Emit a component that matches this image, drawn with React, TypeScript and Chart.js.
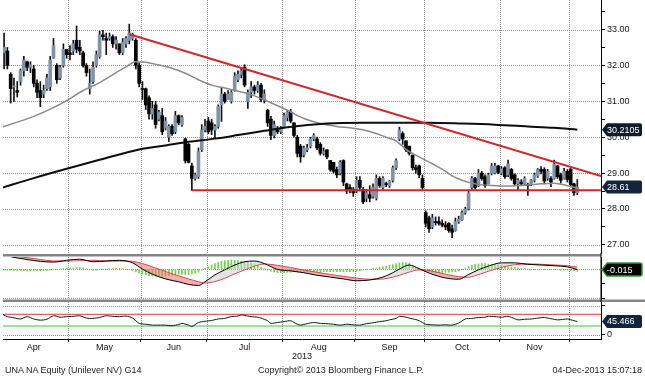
import React, { useEffect, useRef } from 'react';
import { Chart, registerables } from 'chart.js';

Chart.register(...registerables);

const FONT = 'Liberation Sans';

// ---------- time axis (trading-day index, Apr 2013 .. Dec 2013) ----------
const monthNames = ['Apr', 'May', 'Jun', 'Jul', 'Aug', 'Sep', 'Oct', 'Nov'];
const monthStartIdx = [0, 21, 43, 63, 86, 108, 129, 152, 173];
const yearLabel = '2013';

// ---------- daily candles ----------
const opens = [
  32.20, 32.35, 32.40, 31.75, 31.40, 31.30, 31.55, 31.85, 32.10, 31.95,
  31.90, 31.50, 31.30, 31.20, 31.35, 31.40, 32.20, 32.00, 31.65, 32.00,
  32.45, 32.35, 32.40, 32.70, 32.50, 32.35, 32.00, 31.35, 31.55, 32.00,
  32.25, 32.85, 32.75, 32.75, 32.80, 32.60, 32.60, 32.35, 32.60, 32.70,
  32.75, 32.70, 32.00, 31.35, 31.35, 31.10, 30.65, 30.90, 30.50, 30.60,
  30.25, 30.00, 30.30, 30.15, 30.60, 30.35, 29.95, 29.80, 29.20, 28.85,
  28.90, 29.65, 30.20, 30.45, 30.40, 30.20, 30.30, 30.90, 31.20, 31.05,
  31.00, 31.30, 31.60, 31.75, 31.95, 31.00, 31.25, 31.40, 31.30, 31.45,
  31.05, 30.75, 30.50, 30.05, 30.25, 30.15, 30.30, 30.55, 30.70, 30.40,
  30.00, 29.75, 29.50, 29.65, 29.75, 29.95, 29.95, 29.80, 29.55, 29.65,
  29.35, 29.30, 29.10, 29.00, 29.35, 28.70, 28.60, 28.55, 28.50, 28.80,
  28.55, 28.30, 28.40, 28.35, 28.30, 28.85, 28.60, 28.70, 28.65, 28.80,
  29.15, 29.95, 30.10, 29.90, 29.75, 29.50, 29.15, 29.20, 28.85, 27.90,
  27.75, 27.50, 27.65, 27.65, 27.60, 27.55, 27.60, 27.45, 27.40, 27.65,
  27.70, 27.90, 28.00, 28.60, 28.85, 28.65, 29.00, 28.90, 28.70, 29.00,
  29.00, 29.20, 29.00, 29.15, 28.95, 29.10, 28.95, 28.70, 28.75, 28.70,
  28.68, 28.68, 28.80, 28.92, 29.10, 29.10, 28.85, 28.85, 28.85, 29.20,
  28.95, 28.85, 29.05, 29.10, 28.70, 28.45,
];
const highs = [
  32.50, 32.90, 32.50, 31.80, 31.65, 31.55, 31.90, 32.25, 32.12, 32.10,
  32.00, 31.60, 31.55, 31.45, 31.75, 32.25, 32.75, 32.05, 32.00, 32.60,
  32.45, 32.55, 32.70, 33.10, 32.70, 32.40, 32.05, 31.90, 32.10, 32.40,
  32.95, 32.98, 32.90, 32.90, 32.85, 32.80, 32.60, 32.75, 32.80, 33.15,
  32.90, 32.75, 32.07, 31.55, 31.37, 31.15, 31.00, 31.00, 30.75, 30.80,
  30.55, 30.35, 30.35, 30.72, 30.62, 30.60, 29.97, 29.83, 29.28, 29.00,
  29.70, 30.35, 30.50, 30.55, 30.50, 30.35, 30.90, 31.37, 31.25, 31.30,
  31.30, 31.80, 31.85, 31.93, 32.02, 31.32, 31.55, 31.45, 31.55, 31.50,
  31.32, 30.78, 30.58, 30.45, 30.30, 30.30, 30.67, 30.75, 30.78, 30.40,
  30.05, 29.80, 29.75, 29.80, 30.00, 30.10, 30.00, 29.85, 29.70, 29.65,
  29.35, 29.30, 29.17, 29.35, 29.37, 28.72, 28.68, 28.60, 28.90, 28.90,
  28.60, 28.55, 28.65, 28.70, 28.95, 28.90, 28.90, 28.75, 28.80, 29.20,
  29.40, 30.28, 30.15, 29.90, 29.75, 29.50, 29.22, 29.22, 28.95, 27.95,
  27.80, 27.85, 27.78, 27.78, 27.70, 27.65, 27.62, 27.55, 27.75, 27.80,
  27.95, 28.05, 28.50, 28.90, 28.88, 29.10, 29.05, 28.95, 29.00, 29.27,
  29.27, 29.22, 29.18, 29.18, 29.36, 29.13, 28.98, 28.85, 28.82, 28.90,
  28.72, 28.82, 29.00, 29.13, 29.18, 29.15, 29.10, 28.90, 29.36, 29.22,
  29.00, 29.13, 29.10, 29.13, 28.72, 28.82,
];
const lows = [
  32.00, 31.90, 31.90, 30.95, 31.00, 31.12, 31.45, 31.70, 31.85, 31.80,
  31.40, 31.10, 30.85, 31.10, 31.30, 31.30, 32.20, 31.50, 31.60, 31.95,
  32.20, 32.15, 32.30, 32.35, 32.30, 31.95, 31.70, 31.20, 31.50, 31.95,
  32.20, 32.70, 32.30, 32.70, 32.50, 32.45, 32.30, 32.30, 32.50, 32.60,
  32.70, 31.90, 31.40, 31.05, 30.77, 30.50, 30.50, 30.25, 30.45, 30.07,
  30.20, 29.88, 30.05, 30.10, 30.35, 30.30, 29.28, 29.28, 28.52, 28.80,
  28.85, 29.60, 30.15, 30.10, 30.07, 29.98, 30.25, 30.44, 30.95, 31.05,
  30.95, 31.28, 31.55, 31.65, 31.40, 30.80, 31.10, 31.20, 31.25, 30.98,
  30.95, 30.30, 29.93, 29.98, 30.10, 30.10, 30.30, 30.45, 30.40, 30.00,
  29.45, 29.30, 29.45, 29.60, 29.70, 29.90, 29.65, 29.50, 29.50, 29.40,
  29.05, 29.00, 28.87, 28.95, 28.65, 28.43, 28.45, 28.35, 28.45, 28.50,
  28.15, 28.20, 28.20, 28.30, 28.25, 28.60, 28.55, 28.62, 28.60, 28.75,
  29.10, 29.90, 29.80, 29.60, 29.50, 29.08, 29.00, 28.87, 28.55, 27.50,
  27.35, 27.45, 27.55, 27.55, 27.50, 27.42, 27.35, 27.20, 27.38, 27.60,
  27.68, 27.85, 27.97, 28.55, 28.55, 28.62, 28.80, 28.60, 28.70, 28.95,
  28.98, 28.98, 28.95, 28.85, 28.90, 28.80, 28.67, 28.53, 28.65, 28.67,
  28.38, 28.65, 28.75, 28.88, 28.98, 28.70, 28.80, 28.62, 28.83, 28.85,
  28.72, 28.83, 28.75, 28.62, 28.38, 28.40,
];
const closes = [
  32.30, 32.50, 32.00, 31.35, 31.42, 31.25, 31.85, 32.15, 31.95, 32.02,
  31.50, 31.25, 31.10, 31.30, 31.65, 32.15, 32.55, 31.60, 31.95, 32.45,
  32.30, 32.30, 32.60, 32.45, 32.40, 32.00, 31.80, 31.50, 31.95, 32.30,
  32.85, 32.80, 32.70, 32.80, 32.60, 32.70, 32.35, 32.65, 32.75, 32.90,
  32.85, 32.00, 31.50, 31.33, 30.90, 30.65, 30.80, 30.35, 30.70, 30.15,
  30.45, 30.30, 30.10, 30.60, 30.40, 30.55, 29.35, 29.30, 28.85, 28.95,
  29.60, 30.20, 30.30, 30.15, 30.20, 30.30, 30.85, 31.20, 31.00, 31.20,
  31.25, 31.70, 31.75, 31.85, 31.45, 31.25, 31.40, 31.30, 31.45, 31.05,
  31.20, 30.40, 30.05, 30.35, 30.15, 30.25, 30.60, 30.70, 30.45, 30.05,
  29.55, 29.45, 29.70, 29.70, 29.95, 30.05, 29.70, 29.55, 29.60, 29.45,
  29.10, 29.05, 28.95, 29.30, 28.75, 28.50, 28.55, 28.45, 28.80, 28.60,
  28.20, 28.45, 28.30, 28.60, 28.85, 28.65, 28.85, 28.68, 28.78, 29.15,
  29.35, 30.20, 29.95, 29.65, 29.55, 29.15, 29.10, 28.95, 28.60, 27.60,
  27.45, 27.75, 27.62, 27.60, 27.55, 27.50, 27.40, 27.35, 27.65, 27.72,
  27.90, 28.00, 28.45, 28.85, 28.60, 29.00, 28.85, 28.65, 28.95, 29.20,
  29.20, 29.02, 29.12, 28.90, 29.25, 28.85, 28.70, 28.80, 28.70, 28.85,
  28.65, 28.80, 28.95, 29.10, 29.05, 28.78, 29.05, 28.75, 29.25, 28.90,
  28.80, 29.05, 28.82, 28.68, 28.45, 28.61,
];

// ---------- moving averages (sampled) ----------
const ma50Idx = [0, 5, 10, 15, 20, 25, 30, 35, 38, 41, 44, 48, 52, 56, 60, 64, 68, 72, 77, 82, 87, 92, 97, 102, 107, 112, 117, 120, 123, 127, 131, 135, 137, 140, 144, 148, 152, 156, 160, 164, 168, 172, 175];
const ma50Vals = [30.27, 30.42, 30.58, 30.78, 31.02, 31.30, 31.52, 31.80, 31.96, 32.10, 32.09, 32.01, 31.92, 31.78, 31.60, 31.45, 31.37, 31.28, 31.15, 30.96, 30.75, 30.52, 30.38, 30.30, 30.25, 30.16, 30.00, 29.90, 29.66, 29.45, 29.26, 29.05, 28.92, 28.80, 28.70, 28.66, 28.64, 28.65, 28.67, 28.70, 28.72, 28.65, 28.58];
const ma200Idx = [0, 10, 20, 30, 42, 50, 57, 65, 72, 80, 87, 99, 110, 120, 130, 140, 150, 160, 168, 175];
const ma200Vals = [28.58, 28.86, 29.12, 29.37, 29.66, 29.77, 29.87, 29.96, 30.06, 30.18, 30.28, 30.38, 30.40, 30.40, 30.40, 30.38, 30.35, 30.30, 30.26, 30.2105];

// ---------- trend lines ----------
const resistIdx = [39, 182.2];
const resistVals = [32.87, 28.92];
const supportIdx = [58, 182.2];
const supportVals = [28.52, 28.52];

// ---------- price axis ticks ----------
const priceTicks = [27, 27.5, 28, 28.5, 29, 29.5, 30, 30.5, 31, 31.5, 32, 32.5, 33, 33.5];
const priceGrid = [27, 28, 29, 30, 31, 32, 33];

// ---------- MACD ----------
const macdIdx = [0, 4, 8, 12, 16, 20, 24, 28, 32, 36, 40, 43, 46, 50, 54, 57, 60, 62, 65, 68, 71, 74, 77, 80, 84, 88, 92, 96, 100, 104, 108, 112, 116, 119, 121, 124, 127, 130, 133, 136, 139, 142, 145, 148, 152, 156, 160, 164, 168, 172, 175];
const macdVals = [0.40, 0.32, 0.26, 0.21, 0.19, 0.24, 0.27, 0.20, 0.22, 0.24, 0.17, 0.00, -0.14, -0.27, -0.35, -0.42, -0.45, -0.35, -0.16, -0.02, 0.11, 0.20, 0.22, 0.15, -0.01, -0.05, -0.10, -0.17, -0.22, -0.27, -0.32, -0.30, -0.22, -0.10, 0.00, 0.11, 0.01, -0.11, -0.20, -0.26, -0.28, -0.15, -0.02, 0.08, 0.17, 0.17, 0.13, 0.11, 0.09, 0.06, -0.015];
const signalVals = [0.40, 0.36, 0.31, 0.26, 0.22, 0.22, 0.23, 0.24, 0.22, 0.22, 0.21, 0.15, 0.06, -0.07, -0.19, -0.27, -0.35, -0.38, -0.34, -0.25, -0.13, -0.02, 0.08, 0.14, 0.10, 0.04, -0.03, -0.09, -0.15, -0.20, -0.25, -0.28, -0.27, -0.22, -0.17, -0.08, -0.02, -0.04, -0.10, -0.16, -0.21, -0.22, -0.15, -0.06, 0.05, 0.12, 0.14, 0.13, 0.11, 0.09, 0.05];
const macdHist = [
  -0.02, -0.03, -0.04, -0.04, -0.04, -0.05, -0.05, -0.05, -0.05, -0.05,
  -0.05, -0.05, -0.05, -0.04, -0.04, -0.03, -0.02, -0.01, 0.00, 0.01,
  0.02, 0.03, 0.03, 0.04, 0.04, 0.03, 0.01, -0.01, -0.03, -0.03,
  -0.02, -0.01, 0.00, 0.01, 0.02, 0.02, 0.02, 0.01, 0.00, -0.02,
  -0.04, -0.08, -0.11, -0.14, -0.16, -0.18, -0.19, -0.20, -0.20, -0.20,
  -0.19, -0.18, -0.17, -0.16, -0.15, -0.15, -0.15, -0.15, -0.13, -0.11,
  -0.09, -0.03, 0.02, 0.06, 0.11, 0.15, 0.19, 0.21, 0.23, 0.24,
  0.25, 0.24, 0.23, 0.22, 0.21, 0.19, 0.17, 0.14, 0.10, 0.05,
  0.01, -0.03, -0.06, -0.08, -0.10, -0.10, -0.10, -0.09, -0.09, -0.08,
  -0.08, -0.08, -0.07, -0.07, -0.08, -0.08, -0.08, -0.08, -0.07, -0.07,
  -0.07, -0.07, -0.07, -0.07, -0.07, -0.07, -0.07, -0.07, -0.06, -0.05,
  -0.03, -0.02, -0.01, 0.01, 0.03, 0.05, 0.06, 0.08, 0.10, 0.12,
  0.15, 0.17, 0.18, 0.18, 0.16, 0.10, 0.04, 0.00, -0.03, -0.06,
  -0.08, -0.09, -0.10, -0.10, -0.10, -0.09, -0.09, -0.08, -0.07, -0.05,
  -0.01, 0.03, 0.07, 0.10, 0.13, 0.14, 0.15, 0.15, 0.14, 0.13,
  0.12, 0.11, 0.10, 0.08, 0.06, 0.05, 0.04, 0.03, 0.02, 0.01,
  0.00, -0.01, -0.01, -0.02, -0.02, -0.02, -0.02, -0.02, -0.02, -0.02,
  -0.03, -0.03, -0.03, -0.04, -0.05, -0.06,
];
const macdTicks = [-0.8, -0.4, 0];
const macdGrid = [-0.8, 0];

// ---------- RSI ----------
const rsiIdx = [0, 2, 4, 6, 8, 10, 12, 14, 16, 18, 20, 22, 24, 26, 28, 30, 32, 34, 36, 38, 40, 42, 44, 46, 48, 50, 52, 54, 55, 57, 58, 60, 62, 64, 66, 68, 70, 72, 73, 75, 76, 78, 79, 81, 82, 84, 86, 88, 90, 91, 93, 95, 97, 99, 101, 103, 105, 107, 109, 111, 113, 115, 117, 118, 120, 121, 123, 124, 126, 127, 129, 131, 133, 135, 137, 139, 141, 143, 145, 147, 148, 150, 152, 154, 156, 157, 159, 161, 163, 165, 167, 169, 171, 172, 174, 175];
const rsiVals = [73, 62, 58, 54, 62, 54, 50, 53, 65, 60, 62, 63, 65, 57, 56, 59, 65, 63, 62, 64, 57, 39, 36, 33, 33, 33, 31, 35, 39, 33, 28, 42, 46, 49, 54, 56, 62, 64, 68, 64, 62, 60, 57, 48, 39, 42, 45, 48, 36, 33, 38, 42, 39, 38, 36, 33, 36, 34, 33, 38, 41, 45, 48, 51, 56, 63, 60, 57, 52, 48, 36, 34, 33, 34, 33, 40, 54, 56, 59, 60, 63, 62, 60, 63, 55, 51, 53, 54, 57, 59, 55, 51, 53, 54, 48, 45.466];
const rsiHigh = 70;
const rsiLow = 30;
const rsiTicks = [0, 100];
const rsiGrid = [0, 100];

// ---------- footer ----------
const securityText = 'UNA NA Equity (Unilever NV) G14';
const copyrightText = 'Copyright\u00A9 2013 Bloomberg Finance L.P.';
const stampText = '04-Dec-2013 15:07:18';

// ---------- view ----------
const X_MIN = 0.67;
const X_MAX = 182.2;
const PRICE_MIN = 26.774;
const PRICE_MAX = 33.822;
const MACD_MIN = -0.82;
const MACD_MAX = 0.33;
const RSI_MIN = -14.4;
const RSI_MAX = 112;

const N = closes.length;
const dayIdx = closes.map((_, i) => i);
const pts = (ix: number[], vals: number[]) => ix.map((x, k) => ({ x, y: vals[k] }));

const boundaries = monthStartIdx.slice(1).map((s) => s - 0.5);
const mids = monthNames.map((_, k) => (monthStartIdx[k] + monthStartIdx[k + 1] - 1) / 2);
const isBoundary = (v: number) => boundaries.some((b) => Math.abs(b - v) < 1e-6);

const GRID = '#8e8e8e';
const TXT = '#151515';
const NONE = 'rgba(0,0,0,0)';

// dotted grid drawn under the datasets, positioned through the chart's own scales
function dotGrid(hVals: number[]) {
  return {
    id: 'dotGrid',
    beforeDatasetsDraw(chart: any) {
      const { ctx, chartArea: a, scales } = chart;
      ctx.save();
      ctx.strokeStyle = GRID;
      ctx.lineWidth = 1;
      ctx.setLineDash([1, 1]);
      for (const b of boundaries) {
        const x = Math.round(scales.x.getPixelForValue(b)) + 0.5;
        ctx.beginPath();
        ctx.moveTo(x, a.top);
        ctx.lineTo(x, a.bottom);
        ctx.stroke();
      }
      for (const v of hVals) {
        const y = Math.round(scales.y.getPixelForValue(v)) + 0.5;
        ctx.beginPath();
        ctx.moveTo(a.left, y);
        ctx.lineTo(a.right, y);
        ctx.stroke();
      }
      ctx.restore();
    },
  };
}

function xAxis(withLabels: boolean): any {
  return {
    type: 'linear',
    min: X_MIN,
    max: X_MAX,
    offset: false,
    bounds: 'data',
    afterBuildTicks: (s: any) => {
      const vals = withLabels ? [...boundaries, ...mids].sort((a, b) => a - b) : boundaries;
      s.ticks = vals.map((v) => ({ value: v }));
    },
    ticks: {
      display: withLabels,
      autoSkip: false,
      maxRotation: 0,
      minRotation: 0,
      padding: 0,
      color: TXT,
      font: { family: FONT, size: 9 },
      callback: (v: number) => {
        const k = mids.indexOf(v);
        return k >= 0 ? monthNames[k] : '';
      },
    },
    grid: {
      drawOnChartArea: false,
      drawTicks: withLabels,
      tickLength: 3,
      lineWidth: 1,
      color: NONE,
      tickColor: (c: any) => (c.tick && isBoundary(c.tick.value) ? '#222' : NONE),
    },
    border: { display: withLabels, color: '#000', width: 1 },
    title: withLabels
      ? { display: true, text: yearLabel, color: TXT, font: { family: FONT, size: 9 }, padding: { top: 0, bottom: 4 } }
      : { display: false },
    afterFit: (s: any) => {
      s.paddingLeft = 0;
      s.paddingRight = 0;
      s.height = withLabels ? 27 : 0;
    },
  };
}

function yAxis(min: number, max: number, ticks: number[], label: (v: number) => string): any {
  return {
    type: 'linear',
    position: 'right',
    min,
    max,
    bounds: 'data',
    afterBuildTicks: (s: any) => {
      s.ticks = ticks.map((v) => ({ value: v }));
    },
    ticks: { autoSkip: false, padding: 2, color: TXT, font: { family: FONT, size: 9 }, callback: (v: number) => label(v) },
    grid: {
      drawOnChartArea: false,
      tickLength: 4,
      lineWidth: 1,
      tickColor: '#000',
      color: NONE,
    },
    border: { display: true, color: '#000', width: 1 },
    afterFit: (s: any) => {
      s.width = 44;
      s.paddingTop = 0;
      s.paddingBottom = 0;
    },
  };
}

function drawValueBox(ctx: CanvasRenderingContext2D, yc: number, text: string, fill: string, stroke?: string) {
  const x0 = 602;
  const x1 = 642;
  const h = 13;
  const top = yc - h / 2;
  ctx.save();
  ctx.beginPath();
  ctx.moveTo(x0, yc);
  ctx.lineTo(x0 + 5, top);
  ctx.lineTo(x1 - 2, top);
  ctx.quadraticCurveTo(x1, top, x1, top + 2);
  ctx.lineTo(x1, top + h - 2);
  ctx.quadraticCurveTo(x1, top + h, x1 - 2, top + h);
  ctx.lineTo(x0 + 5, top + h);
  ctx.closePath();
  ctx.fillStyle = fill;
  ctx.fill();
  if (stroke) {
    ctx.strokeStyle = stroke;
    ctx.lineWidth = 1.5;
    ctx.stroke();
  }
  ctx.fillStyle = '#ffffff';
  ctx.font = `9px "${FONT}"`;
  ctx.textAlign = 'left';
  ctx.textBaseline = 'middle';
  ctx.fillText(text, x0 + 5, yc + 0.5);
  ctx.restore();
}

const baseOptions = (padding: any) => ({
  responsive: false,
  animation: false as const,
  events: [] as any[],
  layout: { padding },
  plugins: { legend: { display: false }, tooltip: { enabled: false }, title: { display: false } },
});

export default function App() {
  const priceRef = useRef<HTMLCanvasElement>(null);
  const macdRef = useRef<HTMLCanvasElement>(null);
  const rsiRef = useRef<HTMLCanvasElement>(null);

  useEffect(() => {
    const up = (i: number) => closes[i] >= opens[i];

    const priceBoxes = {
      id: 'priceBoxes',
      afterDraw(chart: any) {
        const y = chart.scales.y;
        const lastMa = ma200Vals[ma200Vals.length - 1];
        drawValueBox(chart.ctx, y.getPixelForValue(lastMa), lastMa.toFixed(4), '#0f1c2e');
        drawValueBox(chart.ctx, y.getPixelForValue(closes[N - 1]), closes[N - 1].toFixed(2), '#13253d');
      },
    };

    const price = new Chart(priceRef.current as HTMLCanvasElement, {
      type: 'bar',
      data: {
        datasets: [
          {
            type: 'line',
            data: pts(resistIdx, resistVals),
            borderColor: '#d2262b',
            borderWidth: 2,
            pointRadius: 0,
            order: 0,
          } as any,
          {
            type: 'line',
            data: pts(supportIdx, supportVals),
            borderColor: '#d2262b',
            borderWidth: 2,
            pointRadius: 0,
            order: 0,
          } as any,
          {
            type: 'line',
            data: pts(ma200Idx, ma200Vals),
            borderColor: '#0d0d0d',
            borderWidth: 2,
            pointRadius: 0,
            cubicInterpolationMode: 'monotone',
            order: 1,
          } as any,
          {
            type: 'line',
            data: pts(ma50Idx, ma50Vals),
            borderColor: '#8a8a8a',
            borderWidth: 1.5,
            pointRadius: 0,
            cubicInterpolationMode: 'monotone',
            order: 2,
          } as any,
          {
            type: 'bar',
            data: dayIdx.map((i) => ({ x: i, y: [Math.min(opens[i], closes[i]), Math.max(opens[i], closes[i])] })),
            backgroundColor: (c: any) => (up(c.dataIndex) ? '#8093a9' : '#050505'),
            borderWidth: 0,
            barThickness: 3,
            minBarLength: 1,
            grouped: false,
            order: 4,
          } as any,
          {
            type: 'bar',
            data: dayIdx.map((i) => ({ x: i, y: [lows[i], highs[i]] })),
            backgroundColor: '#111111',
            borderWidth: 0,
            barThickness: 1,
            grouped: false,
            order: 5,
          } as any,
        ],
      },
      options: {
        ...baseOptions({ left: 3, top: 0, right: 0, bottom: 1 }),
        scales: {
          x: xAxis(false),
          y: yAxis(PRICE_MIN, PRICE_MAX, priceTicks, (v) => (Number.isInteger(v) ? v.toFixed(2) : '')),
        },
      } as any,
      plugins: [dotGrid(priceGrid), priceBoxes],
    });

    const macdDecor = {
      id: 'macdDecor',
      afterDraw(chart: any) {
        const { ctx, chartArea } = chart;
        ctx.save();
        ctx.fillStyle = '#858585';
        ctx.fillRect(chartArea.left, 1, chartArea.right - chartArea.left, 2.5);
        ctx.fillRect(chartArea.left, chart.height - 2.5, chart.width - chartArea.left, 2.5);
        ctx.fillStyle = '#000';
        ctx.fillRect(chartArea.right - 0.5, 0, 1, chart.height);
        ctx.restore();
        const y = chart.scales.y;
        const last = macdVals[macdVals.length - 1];
        drawValueBox(ctx, y.getPixelForValue(last), last.toFixed(3), '#000000', '#2e9a34');
      },
    };

    const macd = new Chart(macdRef.current as HTMLCanvasElement, {
      type: 'bar',
      data: {
        datasets: [
          {
            type: 'bar',
            data: dayIdx.map((i) => ({ x: i, y: macdHist[i] })),
            backgroundColor: '#6fd24c',
            borderWidth: 0,
            barThickness: 1,
            grouped: false,
            order: 3,
          } as any,
          {
            type: 'line',
            data: pts(macdIdx, signalVals),
            borderColor: '#d2262b',
            borderWidth: 1,
            pointRadius: 0,
            cubicInterpolationMode: 'monotone',
            order: 1,
          } as any,
          {
            type: 'line',
            data: pts(macdIdx, macdVals),
            borderColor: '#000000',
            borderWidth: 1,
            pointRadius: 0,
            cubicInterpolationMode: 'monotone',
            fill: { target: 1, above: 'rgba(205,205,205,0.55)', below: 'rgba(238,120,120,0.6)' },
            order: 0,
          } as any,
        ],
      },
      options: {
        ...baseOptions({ left: 3, top: 4, right: 0, bottom: 3 }),
        scales: {
          x: xAxis(false),
          y: yAxis(MACD_MIN, MACD_MAX, macdTicks, () => ''),
        },
      } as any,
      plugins: [dotGrid(macdGrid), macdDecor],
    });

    const rsiDecor = {
      id: 'rsiDecor',
      afterDraw(chart: any) {
        const y = chart.scales.y;
        const last = rsiVals[rsiVals.length - 1];
        drawValueBox(chart.ctx, y.getPixelForValue(last), last.toFixed(3), '#13253d');
      },
    };

    const rsi = new Chart(rsiRef.current as HTMLCanvasElement, {
      type: 'line',
      data: {
        datasets: [
          {
            data: pts([X_MIN, X_MAX], [rsiHigh, rsiHigh]),
            borderColor: '#e0393c',
            borderWidth: 1,
            pointRadius: 0,
            order: 2,
          },
          {
            data: pts([X_MIN, X_MAX], [rsiLow, rsiLow]),
            borderColor: '#3fc23f',
            borderWidth: 1,
            pointRadius: 0,
            order: 2,
          },
          {
            data: pts(rsiIdx, rsiVals),
            borderColor: '#10131c',
            borderWidth: 1,
            pointRadius: 0,
            tension: 0.25,
            order: 0,
          },
        ] as any,
      },
      options: {
        ...baseOptions({ left: 3, top: 0, right: 0, bottom: 0 }),
        scales: {
          x: xAxis(true),
          y: yAxis(RSI_MIN, RSI_MAX, rsiTicks, (v) => (v === 0 ? '0' : '')),
        },
      } as any,
      plugins: [dotGrid(rsiGrid), rsiDecor],
    });

    return () => {
      price.destroy();
      macd.destroy();
      rsi.destroy();
    };
  }, []);

  const footer: React.CSSProperties = {
    position: 'absolute',
    top: 365,
    font: `9px "${FONT}"`,
    lineHeight: '10px',
    color: '#222',
    whiteSpace: 'nowrap',
  };

  return (
    <div style={{ position: 'absolute', left: 0, top: 0, width: 645, height: 376, background: '#fff', overflow: 'hidden' }}>
      <canvas ref={priceRef} width={645} height={254} style={{ position: 'absolute', left: 0, top: 0, display: 'block' }} />
      <canvas ref={macdRef} width={645} height={49} style={{ position: 'absolute', left: 0, top: 253, display: 'block' }} />
      <canvas ref={rsiRef} width={645} height={64} style={{ position: 'absolute', left: 0, top: 302, display: 'block' }} />
      <div style={{ ...footer, left: 5 }}>{securityText}</div>
      <div style={{ ...footer, left: 258 }}>{copyrightText}</div>
      <div style={{ ...footer, right: 3 }}>{stampText}</div>
    </div>
  );
}
